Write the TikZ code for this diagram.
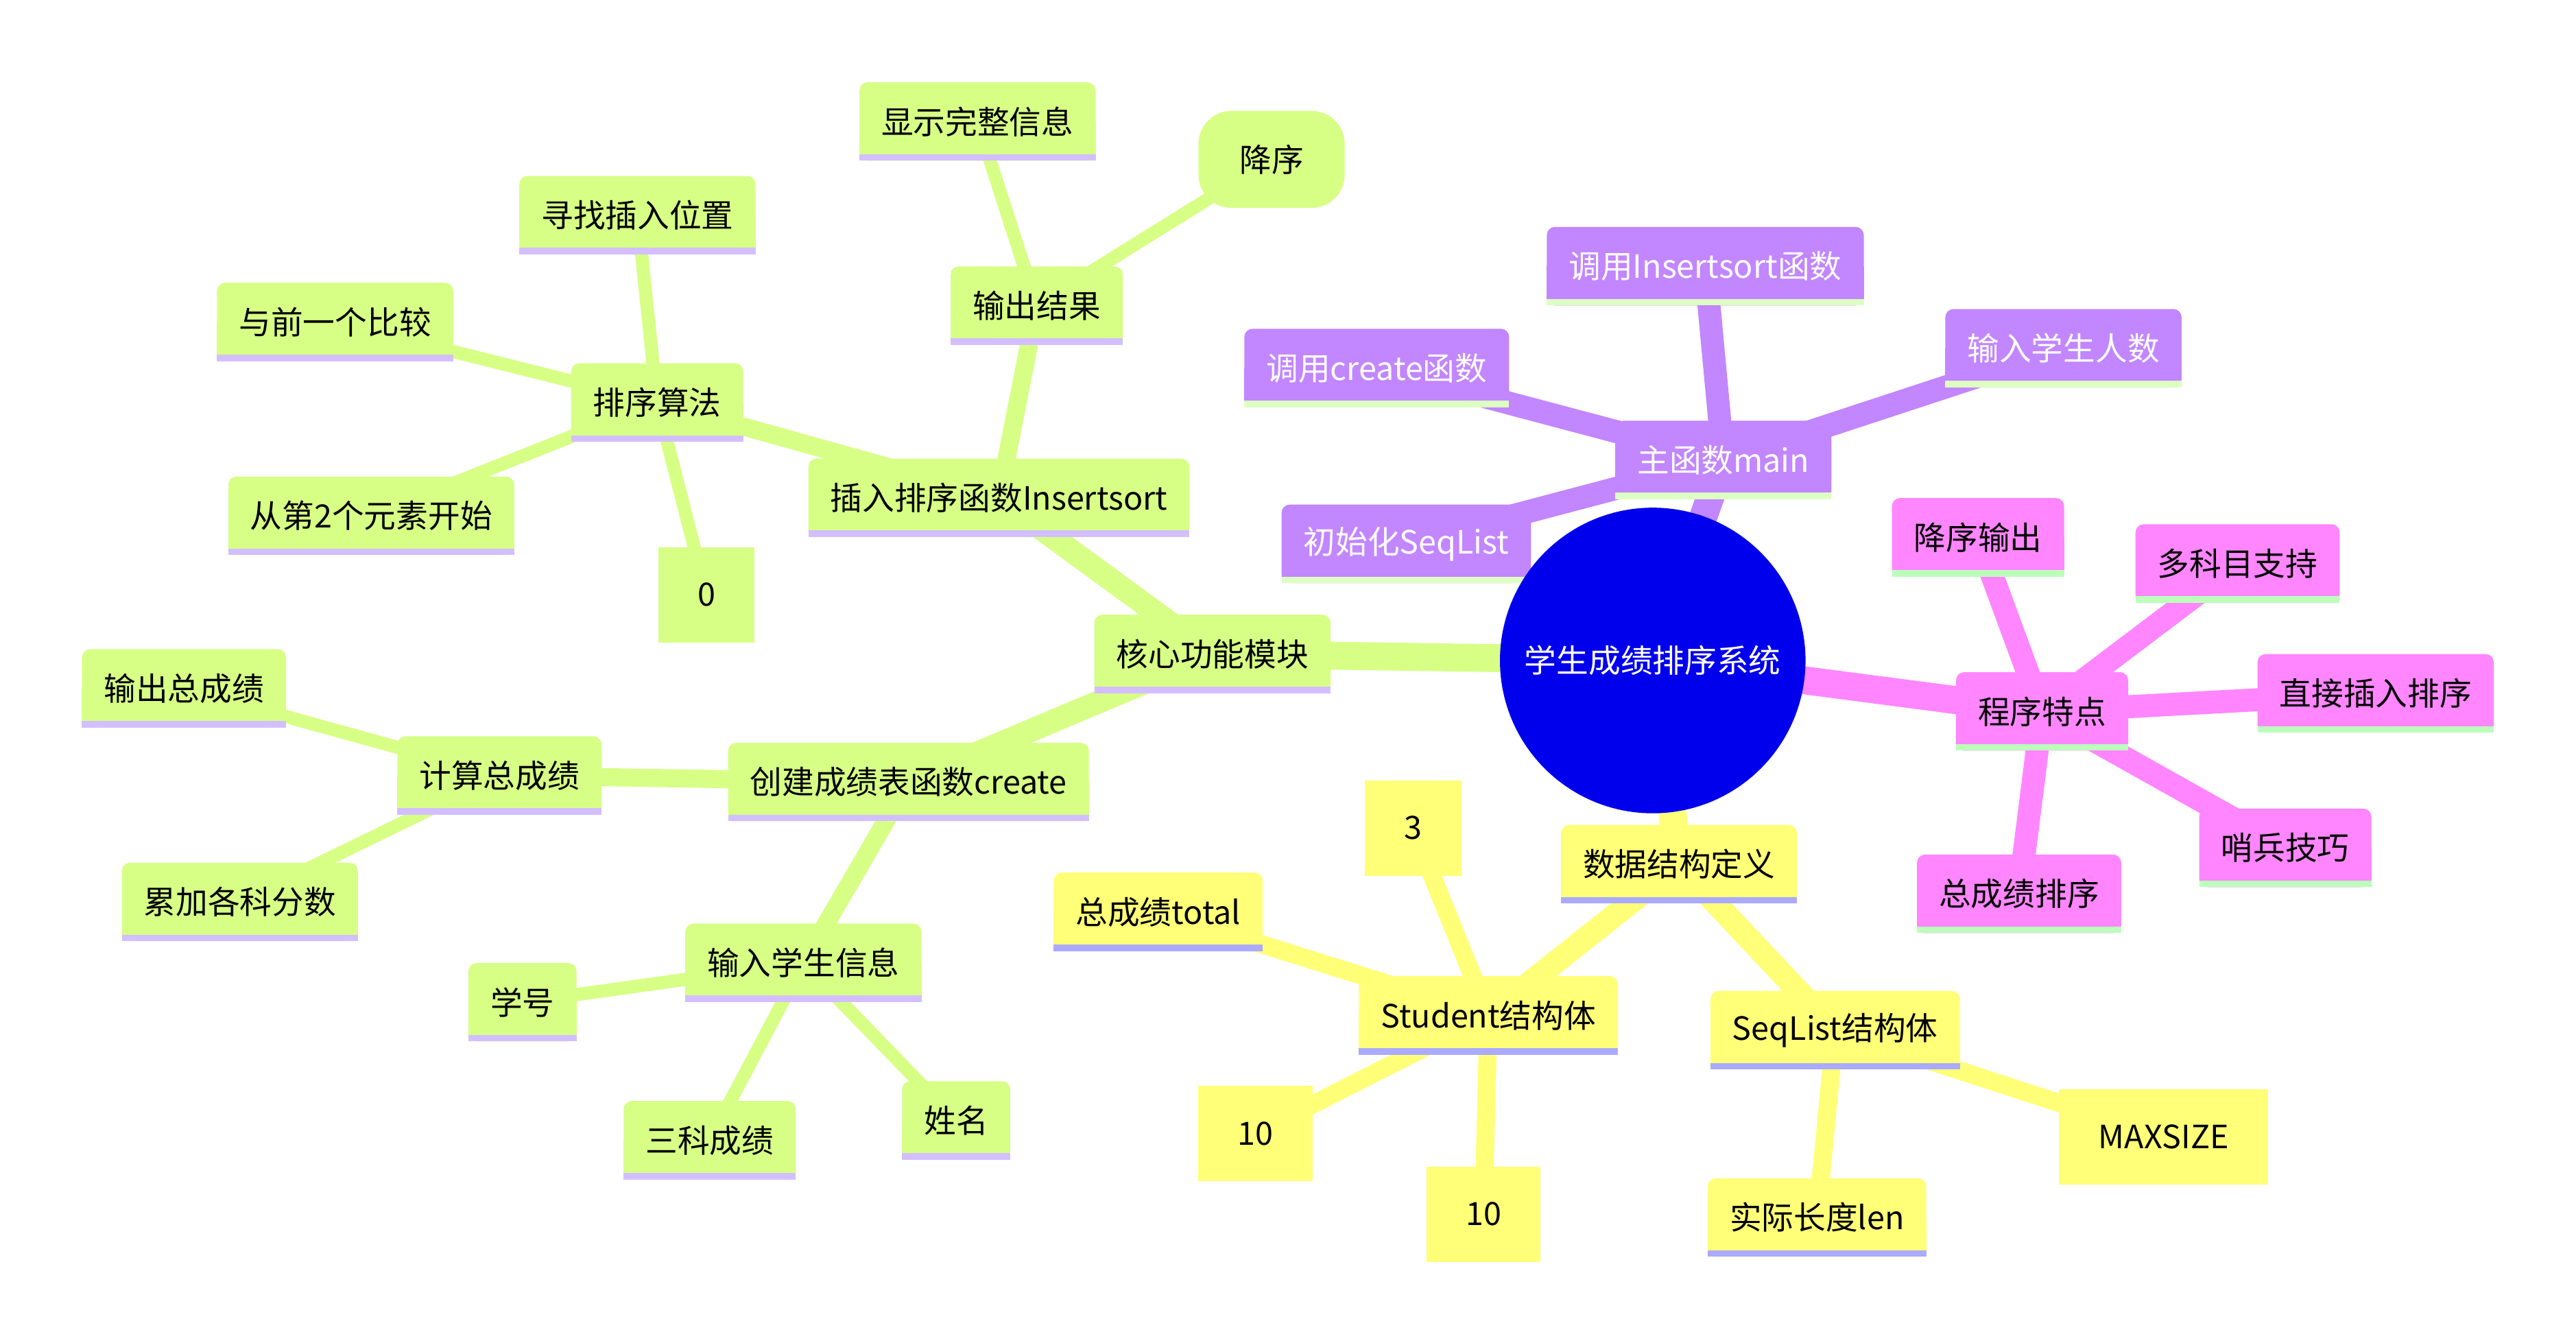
\documentclass[tikz,border=0pt]{standalone}
\usepackage{fontspec}
\setmainfont{Noto Sans CJK SC}
\usetikzlibrary{calc}
\definecolor{rootblue}{HTML}{0000EC}
\definecolor{gfill}{HTML}{D7FF86}
\definecolor{gline}{HTML}{D3BFFF}
\definecolor{pfill}{HTML}{C286FF}
\definecolor{pline}{HTML}{DDFFC2}
\definecolor{kfill}{HTML}{FF86FF}
\definecolor{kline}{HTML}{BBFFBB}
\definecolor{yfill}{HTML}{FFFF78}
\definecolor{yline}{HTML}{AAAAFF}
\pgfdeclarelayer{edges}
\pgfdeclarelayer{boxes}
\pgfsetlayers{edges,boxes,main}
\tikzset{
  mmfont/.style={font=\fontsize{9.75pt}{11pt}\selectfont},
  mmtext/.style={mmfont, inner xsep=6.5pt, inner ysep=0pt, minimum height=23.5pt, text=#1},
  sqnode/.style={mmfont, inner xsep=12pt, inner ysep=0pt, minimum height=29pt, fill=#1},
  rndnode/.style={mmfont, inner xsep=12.5pt, inner ysep=0pt, minimum height=29.5pt, fill=#1, rounded corners=10pt},
  e0/.style={line width=8.5pt, draw=#1},
  e1/.style={line width=7pt, draw=#1},
  e2/.style={line width=5.5pt, draw=#1},
  e3/.style={line width=4pt, draw=#1},
}
% name, x, y, section, text ; optional text colour
\newcommand{\mmbox}[6][black]{%
  \node[mmtext=#1] (#2) at (#3,#4) {#6};
  \begin{pgfonlayer}{boxes}
    \fill[#5fill, rounded corners=2.5pt] (#2.north west) rectangle (#2.south east);
    \fill[#5fill] (#2.west) rectangle (#2.south east);
    \fill[#5line] (#2.south west) rectangle ($(#2.south east)+(0,-4)$);
  \end{pgfonlayer}
}
\begin{document}
\begin{tikzpicture}[x=0.5pt,y=-0.5pt]
\useasboundingbox (0,0) rectangle (1568,817);

% root
\node[circle, fill=rootblue, minimum size=93pt, inner sep=0pt, text=white, mmfont] (root) at (1006,402) {学生成绩排序系统};

% green section
\mmbox{core}{738}{398}{g}{核心功能模块}
\mmbox{ins}{608}{303}{g}{插入排序函数Insertsort}
\mmbox{algo}{400}{245}{g}{排序算法}
\mmbox{find}{388}{131}{g}{寻找插入位置}
\mmbox{cmp}{204}{196}{g}{与前一个比较}
\mmbox{from2}{226}{314}{g}{从第2个元素开始}
\node[sqnode=gfill] (zero) at (430,362) {0};
\mmbox{out}{631}{186}{g}{输出结果}
\mmbox{show}{595}{74}{g}{显示完整信息}
\node[rndnode=gfill] (desc) at (774,97) {降序};
\mmbox{create}{553}{476}{g}{创建成绩表函数create}
\mmbox{calc}{304}{472}{g}{计算总成绩}
\mmbox{outtot}{112}{419}{g}{输出总成绩}
\mmbox{accum}{146}{549}{g}{累加各科分数}
\mmbox{input}{489}{586}{g}{输入学生信息}
\mmbox{sid}{318}{610}{g}{学号}
\mmbox{three}{432}{694}{g}{三科成绩}
\mmbox{sname}{582}{682}{g}{姓名}

% purple section
\mmbox[white]{main}{1049}{280}{p}{主函数main}
\mmbox[white]{callins}{1038}{162}{p}{调用Insertsort函数}
\mmbox[white]{callcr}{838}{224}{p}{调用create函数}
\mmbox[white]{inputn}{1256}{212}{p}{输入学生人数}
\mmbox[white]{init}{856}{331}{p}{初始化SeqList}

% pink section
\mmbox{feat}{1243}{433}{k}{程序特点}
\mmbox{descout}{1204}{327}{k}{降序输出}
\mmbox{multi}{1362}{343}{k}{多科目支持}
\mmbox{direct}{1446}{422}{k}{直接插入排序}
\mmbox{sentinel}{1391}{516}{k}{哨兵技巧}
\mmbox{totsort}{1229}{544}{k}{总成绩排序}

% yellow section
\mmbox{data}{1022}{526}{y}{数据结构定义}
\mmbox{student}{906}{618}{y}{Student结构体}
\mmbox{seqlist}{1117}{627}{y}{SeqList结构体}
\mmbox{total}{705}{555}{y}{总成绩total}
\node[sqnode=yfill] (three3) at (860,504) {3};
\node[sqnode=yfill] (tenA) at (764,690) {10};
\node[sqnode=yfill] (tenB) at (903,739) {10};
\mmbox{len}{1106}{741}{y}{实际长度len}
\node[sqnode=yfill] (maxsize) at (1317,692) {MAXSIZE};

\begin{pgfonlayer}{edges}
\draw[e0=gfill] (root.center) -- (core.center);
\draw[e0=pfill] (root.center) -- (main.center);
\draw[e0=kfill] (root.center) -- (feat.center);
\draw[e0=yfill] (root.center) -- (data.center);

\draw[e1=gfill] (core.center) -- (ins.center);
\draw[e1=gfill] (core.center) -- (create.center);
\foreach \n in {callins,callcr,inputn,init} \draw[e1=pfill] (main.center) -- (\n.center);
\foreach \n in {descout,multi,direct,sentinel,totsort} \draw[e1=kfill] (feat.center) -- (\n.center);
\draw[e1=yfill] (data.center) -- (student.center);
\draw[e1=yfill] (data.center) -- (seqlist.center);

\draw[e2=gfill] (ins.center) -- (algo.center);
\draw[e2=gfill] (ins.center) -- (out.center);
\draw[e2=gfill] (create.center) -- (calc.center);
\draw[e2=gfill] (create.center) -- (input.center);
\foreach \n in {total,three3,tenA,tenB} \draw[e2=yfill] (student.center) -- (\n.center);
\draw[e2=yfill] (seqlist.center) -- (len.center);
\draw[e2=yfill] (seqlist.center) -- (maxsize.center);

\foreach \n in {find,cmp,from2,zero} \draw[e3=gfill] (algo.center) -- (\n.center);
\draw[e3=gfill] (out.center) -- (show.center);
\draw[e3=gfill] (out.center) -- (desc.center);
\draw[e3=gfill] (calc.center) -- (outtot.center);
\draw[e3=gfill] (calc.center) -- (accum.center);
\foreach \n in {sid,three,sname} \draw[e3=gfill] (input.center) -- (\n.center);
\end{pgfonlayer}
\end{tikzpicture}
\end{document}
